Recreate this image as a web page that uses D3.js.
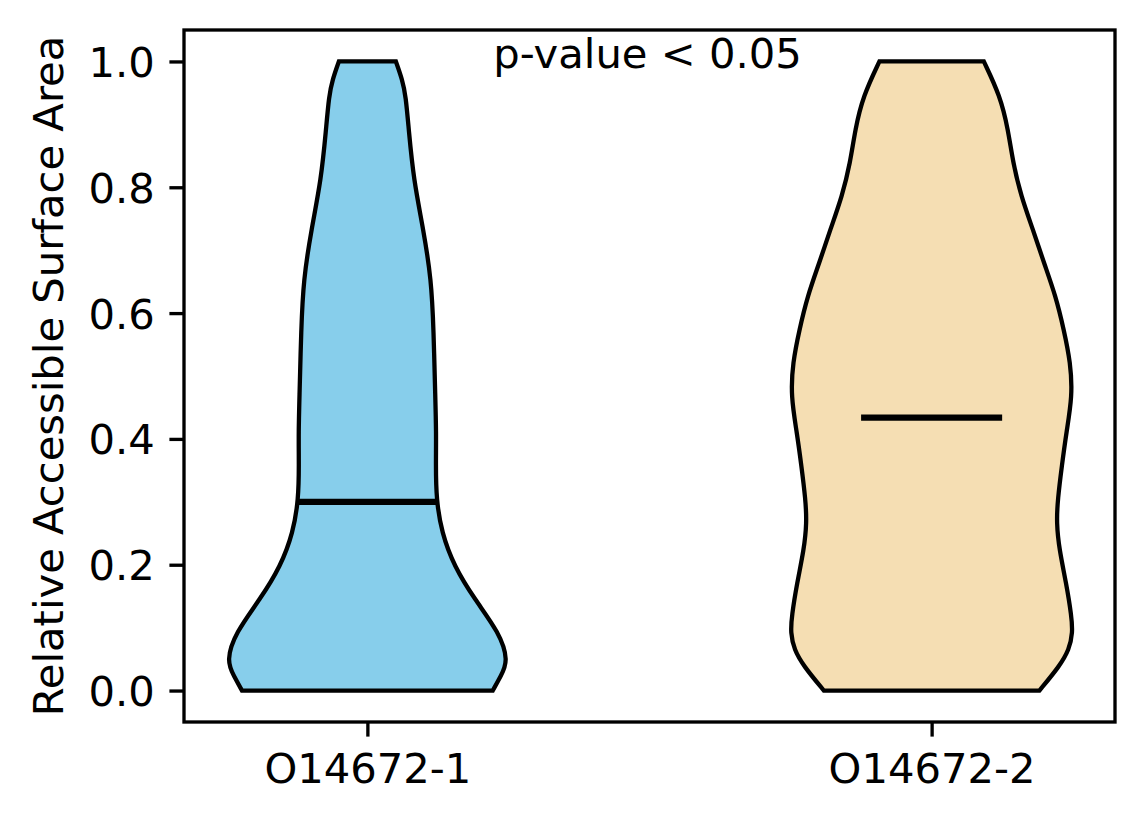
<!DOCTYPE html>
<html>
<head>
<meta charset="utf-8">
<script src="https://cdn.jsdelivr.net/npm/d3@7"></script>
<style>
  body { margin: 0; background: #fff; }
  svg { display: block; font-family: "DejaVu Sans", sans-serif; }
</style>
</head>
<body>
<div id="draw"></div>
<script>
var categories = ['O14672-1', 'O14672-2'];
var fillColors = ['#87CEEB', '#F5DEB3'];
var medians = [0.30, 0.434];

// kde profile: rsa value -> relative density
var rsa1 = [0, 0.023, 0.047, 0.092, 0.145, 0.198, 0.251, 0.304, 0.36, 0.41, 0.468, 0.574, 0.653, 0.733, 0.812, 0.892, 0.945, 0.971, 1.0];
var dens1 = [0.898, 0.955, 1.01, 0.945, 0.768, 0.62, 0.532, 0.493, 0.49, 0.493, 0.486, 0.474, 0.458, 0.401, 0.331, 0.296, 0.275, 0.25, 0.204];

var rsa2 = [0, 0.039, 0.065, 0.092, 0.118, 0.171, 0.224, 0.267, 0.304, 0.357, 0.41, 0.468, 0.521, 0.574, 0.627, 0.68, 0.733, 0.786, 0.839, 0.892, 0.945, 1.0];
var dens2 = [0.764, 0.908, 0.975, 1.0, 0.992, 0.954, 0.905, 0.885, 0.894, 0.923, 0.955, 0.998, 0.985, 0.937, 0.880, 0.796, 0.718, 0.634, 0.577, 0.542, 0.486, 0.370];

var yTicks = [0, 0.2, 0.4, 0.6, 0.8, 1.0];
var annotation = 'p-value < 0.05';
var yLabel = 'Relative Accessible Surface Area';

var W = 1144, H = 824;
var axL = 184, axR = 1115, axT = 30, axB = 722;
var fs = 41.7;       // 10pt at 300 dpi
var tickLen = 14.6;  // 3.5pt
var lw = 3.33;       // 0.8pt

var x = d3.scaleLinear().domain([0.675, 2.325]).range([axL, axR]);
var y = d3.scaleLinear().domain([-0.05, 1.05]).range([axB, axT]);

var svg = d3.select('#draw').append('svg')
    .attr('width', W).attr('height', H);

var violins = [
  { pos: 1, rsa: rsa1, dens: dens1 },
  { pos: 2, rsa: rsa2, dens: dens2 }
];

violins.forEach(function(v, i) {
  var maxD = d3.max(v.dens);
  var pts = v.rsa.map(function(r, j) { return { r: r, w: 0.25 * v.dens[j] / maxD }; });
  var area = d3.area()
      .curve(d3.curveBasis)
      .y(function(d) { return y(d.r); })
      .x0(function(d) { return x(v.pos - d.w); })
      .x1(function(d) { return x(v.pos + d.w); });
  svg.append('path')
      .datum(pts)
      .attr('d', area)
      .attr('fill', fillColors[i])
      .attr('stroke', '#000')
      .attr('stroke-width', 4.3)
      .attr('stroke-linejoin', 'miter');
  // median line spans half the violin width
  svg.append('line')
      .attr('x1', x(v.pos - 0.125)).attr('x2', x(v.pos + 0.125))
      .attr('y1', y(medians[i])).attr('y2', y(medians[i]))
      .attr('stroke', '#000')
      .attr('stroke-width', 6.25);
});

// axes
var yAxis = d3.axisLeft(y).tickValues(yTicks).tickFormat(d3.format('.1f'))
    .tickSize(tickLen).tickPadding(14.6).tickSizeOuter(0);
var gy = svg.append('g').attr('transform', 'translate(' + axL + ',0)').call(yAxis);

var xAxis = d3.axisBottom(x).tickValues([1, 2]).tickFormat(function(d) { return categories[d - 1]; })
    .tickSize(tickLen).tickPadding(14.6).tickSizeOuter(0);
var gx = svg.append('g').attr('transform', 'translate(0,' + axB + ')').call(xAxis);

[gy, gx].forEach(function(g) {
  g.select('.domain').remove();
  g.selectAll('.tick line').attr('stroke', '#000').attr('stroke-width', lw);
  g.selectAll('.tick text')
      .attr('fill', '#000')
      .style('font-family', '"DejaVu Sans", sans-serif')
      .style('font-size', fs + 'px');
});
gy.selectAll('.tick text').attr('dy', '0.36em');
gx.selectAll('.tick text').attr('dy', '0.76em');

// frame
svg.append('rect')
    .attr('x', axL).attr('y', axT)
    .attr('width', axR - axL).attr('height', axB - axT)
    .attr('fill', 'none')
    .attr('stroke', '#000')
    .attr('stroke-width', lw);

svg.append('text')
    .attr('x', x(1.5) - 2).attr('y', 68)
    .attr('text-anchor', 'middle')
    .style('font-size', fs + 'px')
    .text(annotation);

svg.append('text')
    .attr('transform', 'translate(63,' + ((axT + axB) / 2) + ') rotate(-90)')
    .attr('text-anchor', 'middle')
    .style('font-size', fs + 'px')
    .text(yLabel);
</script>
</body>
</html>
